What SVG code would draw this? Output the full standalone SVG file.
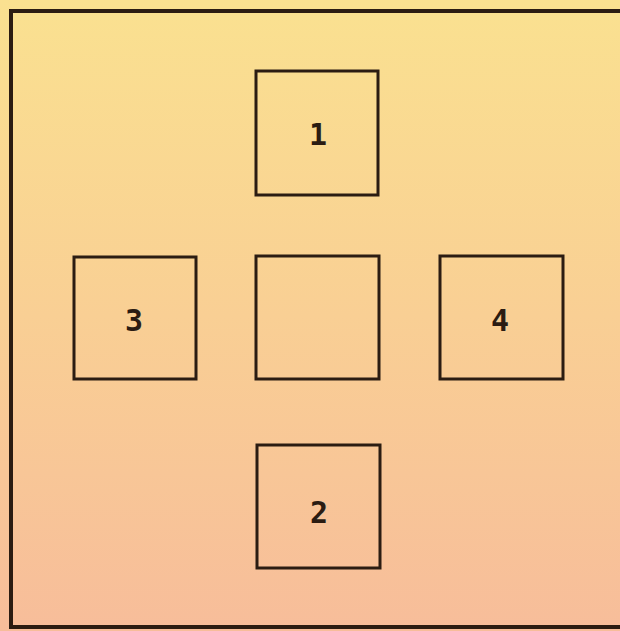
<svg xmlns="http://www.w3.org/2000/svg" width="620" height="631" viewBox="0 0 620 631">
<defs>
<linearGradient id="bg" x1="0" y1="0" x2="0" y2="1">
<stop offset="0" stop-color="#FAE190"/>
<stop offset="0.5" stop-color="#F9CF94"/>
<stop offset="1" stop-color="#F7BD9A"/>
</linearGradient>
<style>
.box{fill:none;stroke:#2b1c12;stroke-width:3}
.lbl{font-family:"DejaVu Sans Mono","Liberation Mono",monospace;font-weight:bold;font-size:30px;fill:#2b1c12;text-anchor:middle;dominant-baseline:central}
</style>
</defs>
<rect x="0" y="0" width="620" height="631" fill="url(#bg)"/>
<rect x="11" y="11" width="620" height="616" fill="none" stroke="#2b1c12" stroke-width="4"/>
<g id="connectors"></g>
<g id="node1"><rect class="box" x="256" y="71" width="122" height="124"/><text class="lbl" x="318" y="134">1</text></g>
<g id="node3"><rect class="box" x="74" y="257" width="122" height="122"/><text class="lbl" x="134" y="320">3</text></g>
<g id="nodeCenter"><rect class="box" x="256" y="256" width="123" height="123"/></g>
<g id="node4"><rect class="box" x="440" y="256" width="123" height="123"/><text class="lbl" x="500" y="320">4</text></g>
<g id="node2"><rect class="box" x="257" y="445" width="123" height="123"/><text class="lbl" x="319" y="512">2</text></g>
</svg>
